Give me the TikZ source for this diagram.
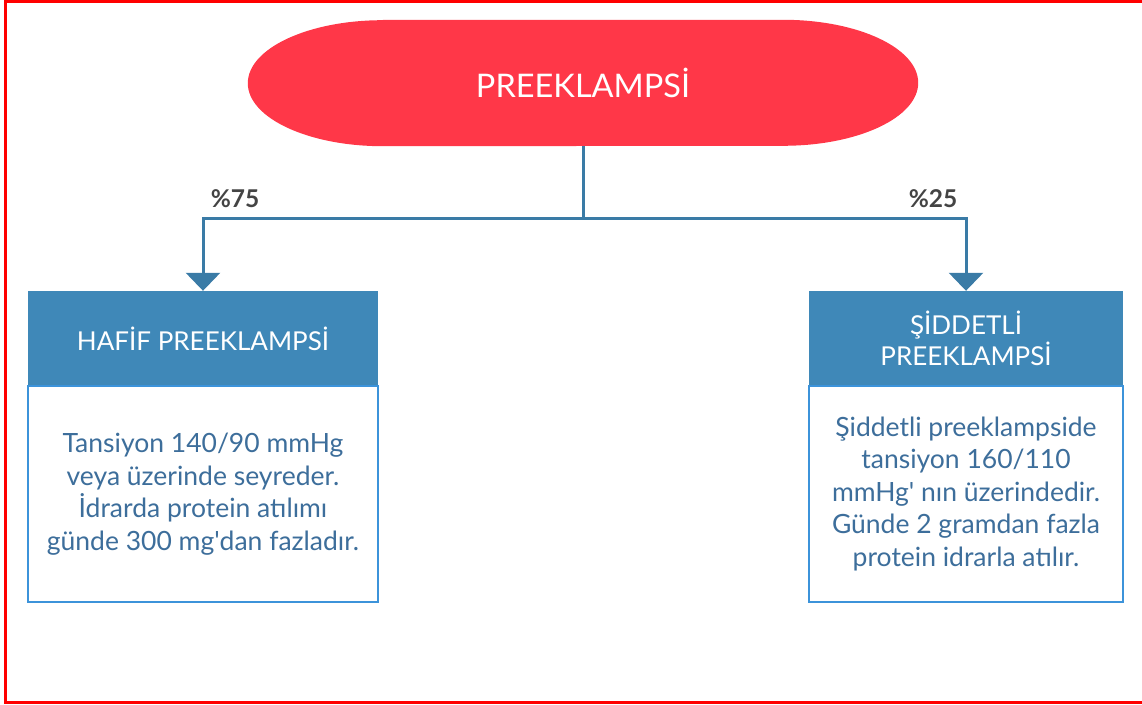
\documentclass[tikz,border=0pt]{standalone}
\usepackage{fontspec}
\setmainfont{Lato}
\usetikzlibrary{arrows.meta}

\definecolor{titlered}{HTML}{FF3748}
\definecolor{headblue}{HTML}{3F88B8}
\definecolor{lineblue}{HTML}{3A7BA6}
\definecolor{bodyedge}{HTML}{3C93DA}
\definecolor{bodytext}{HTML}{3D6E9B}
\definecolor{labelgray}{HTML}{444444}

\begin{document}
\begin{tikzpicture}[x=1pt, y=1pt, >={Triangle[width=34pt,length=18pt]},
    conn/.style={draw=lineblue, line width=3pt},
    headbox/.style={fill=headblue, text=white, font=\fontsize{26}{31}\selectfont,
        align=center, inner sep=0pt, minimum height=95pt},
    bodybox/.style={draw=bodyedge, line width=2.5pt, fill=white, text=bodytext,
        font=\fontsize{26.5}{32.5}\selectfont, align=center, inner sep=0pt, minimum height=216pt},
    pct/.style={text=labelgray, font=\fontsize{24.5}{28}\selectfont\bfseries}]
    \useasboundingbox (0, 0) rectangle (1142, 704);
    \draw[red, line width=3pt] (5.5, 702.5) rectangle (1160, 2);   % frame, right side cut off

    % title
    \node[minimum width=670pt, minimum height=126pt, inner sep=0pt] (title) at (583, 621) {};
    \fill[titlered] ([xshift=135pt]title.north west) -- ([xshift=-135pt]title.north east)
        arc[start angle=90, end angle=-90, x radius=135, y radius=63]
        -- ([xshift=135pt]title.south west)
        arc[start angle=270, end angle=90, x radius=135, y radius=63] -- cycle;
    \node[text=white, font=\fontsize{32.5}{36}\selectfont] at (title) {PREEKLAMPSİ};

    % boxes
    \node[headbox, minimum width=350pt] (lhead) at (203, 365.5) {HAFİF PREEKLAMPSİ};
    \node[bodybox, minimum width=350pt] (lbody) at (203, 210)
        {Tansiyon 140/90 mmHg\\veya üzerinde seyreder.\\İdrarda protein atılımı\\günde 300 mg\textquotesingle dan fazladır.};
    \node[headbox, minimum width=314pt] (rhead) at (966, 365.5) {ŞİDDETLİ\\PREEKLAMPSİ};
    \node[bodybox, minimum width=314pt] (rbody) at (966, 210)
        {Şiddetli preeklampside\\tansiyon 160/110\\mmHg\textquotesingle{} nın üzerindedir.\\Günde 2 gramdan fazla\\protein idrarla atılır.};

    % connectors
    \coordinate (split) at (583, 485);
    \draw[conn] (title.south) -- (split);
    \draw[conn, ->] (split) -| (lhead.north);
    \draw[conn, ->] (split) -| (rhead.north);
    \node[pct] (p75) at (235, 505) {\%75};
    \node[pct] (p25) at (933, 505) {\%25};
\end{tikzpicture}
\end{document}
